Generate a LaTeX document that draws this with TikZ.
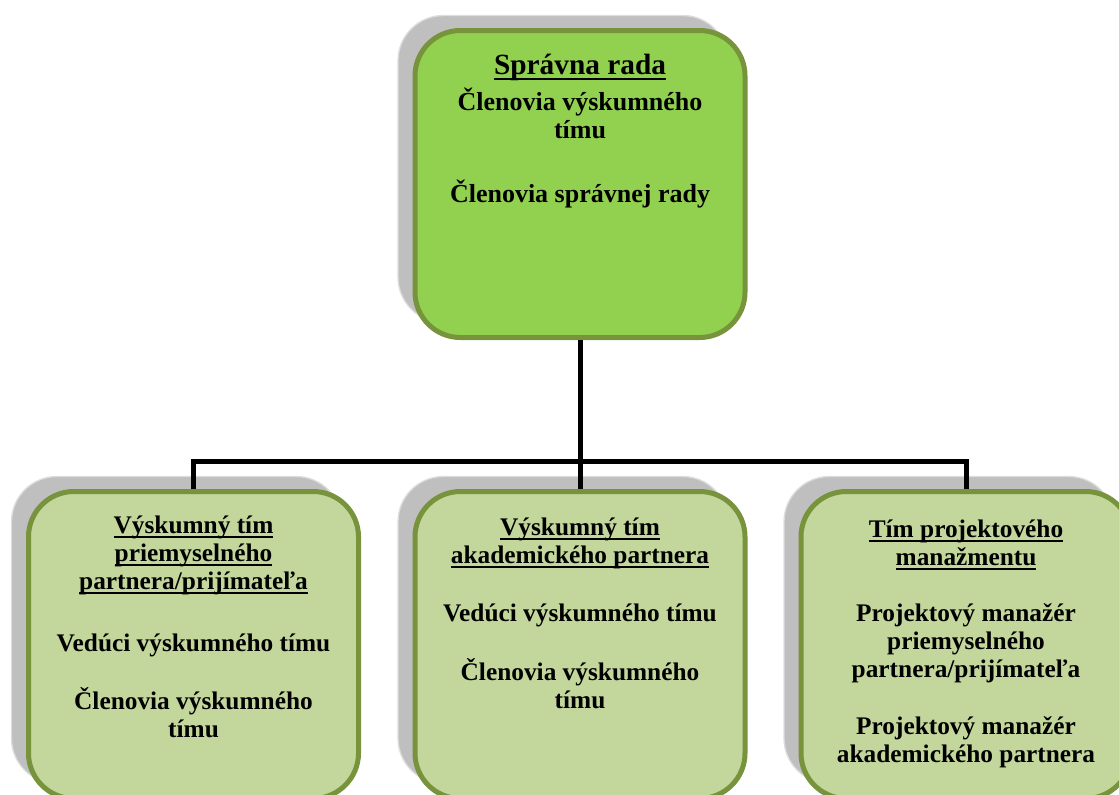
\documentclass[tikz,border=0pt]{standalone}
\usepackage{fontspec}
\setmainfont{Liberation Serif}
\usetikzlibrary{positioning, shadows}
\definecolor{radafill}{HTML}{92D050}
\definecolor{teamfill}{HTML}{C3D69B}
\definecolor{boxline}{HTML}{77933C}
\definecolor{shadowgray}{HTML}{BFBFBF}
\definecolor{shadowline}{HTML}{DDDDDD}
\newcommand\uln[1]{\setbox0\hbox{#1}\rlap{\rule[-3.6pt]{\wd0}{1.4pt}}\box0}

\begin{document}
\begin{tikzpicture}[x=0.75pt, y=-0.75pt,
            box/.style={rectangle, rounded corners=34pt, draw=boxline, line width=3.75pt, minimum width=247.5pt, minimum height=230.25pt,
                drop shadow={shadow xshift=-12.75pt, shadow yshift=11.25pt, fill=shadowgray, draw=shadowline, line width=1pt, opacity=1}},
            topbox/.style={box, fill=radafill},
            teambox/.style={box, fill=teamfill},
            txt/.style={font=\bfseries\fontsize{19}{21}\selectfont, align=center, inner sep=0pt, anchor=base},
            link/.style={line width=3.75pt, black}
        ]
            \useasboundingbox (0,0) rectangle (1119,794);

            % --- boxes ---
            \node[topbox] (rada) at (580,184) {};
            \node[teambox] (priem) at (193.5,645) {};
            \node[teambox] (akad) at (580,645) {};
            \node[teambox] (manaz) at (966,645) {};

            % --- connectors ---
            \coordinate (bus) at (580,461);
            \draw[link] (rada.south) -- (bus);
            \draw[link] (bus) -| (priem.north);
            \draw[link] (bus) -| (manaz.north);
            \draw[link] (bus) -- (akad.north);

            % --- texts (placed at the last baseline) ---
            \node[txt, font=\bfseries\fontsize{19.5}{21}\selectfont] (rada-txt) at (580,202)
                {{\fontsize{22}{21}\selectfont\uln{Správna rada}}\\[3.75pt] Členovia výskumného\\ tímu\\[27pt] Členovia správnej rady};
            \node[txt] (priem-txt) at (193.5,737)
                {\uln{Výskumný tím}\\ \uln{priemyselného}\\ \uln{partnera/prijímateľa}\\[25.5pt]
                 Vedúci výskumného tímu\\[22.5pt] Členovia výskumného\\ tímu};
            \node[txt] (akad-txt) at (580,708)
                {\uln{Výskumný tím}\\ \uln{akademického partnera}\\[22.5pt]
                 Vedúci výskumného tímu\\[23pt] Členovia výskumného\\ tímu};
            \node[txt] (manaz-txt) at (966,762)
                {\uln{Tím projektového}\\ \uln{manažmentu}\\[21pt]
                 Projektový manažér\\ priemyselného\\ partnera/prijímateľa\\[21.75pt]
                 Projektový manažér\\ akademického partnera};
        \end{tikzpicture}
\end{document}
